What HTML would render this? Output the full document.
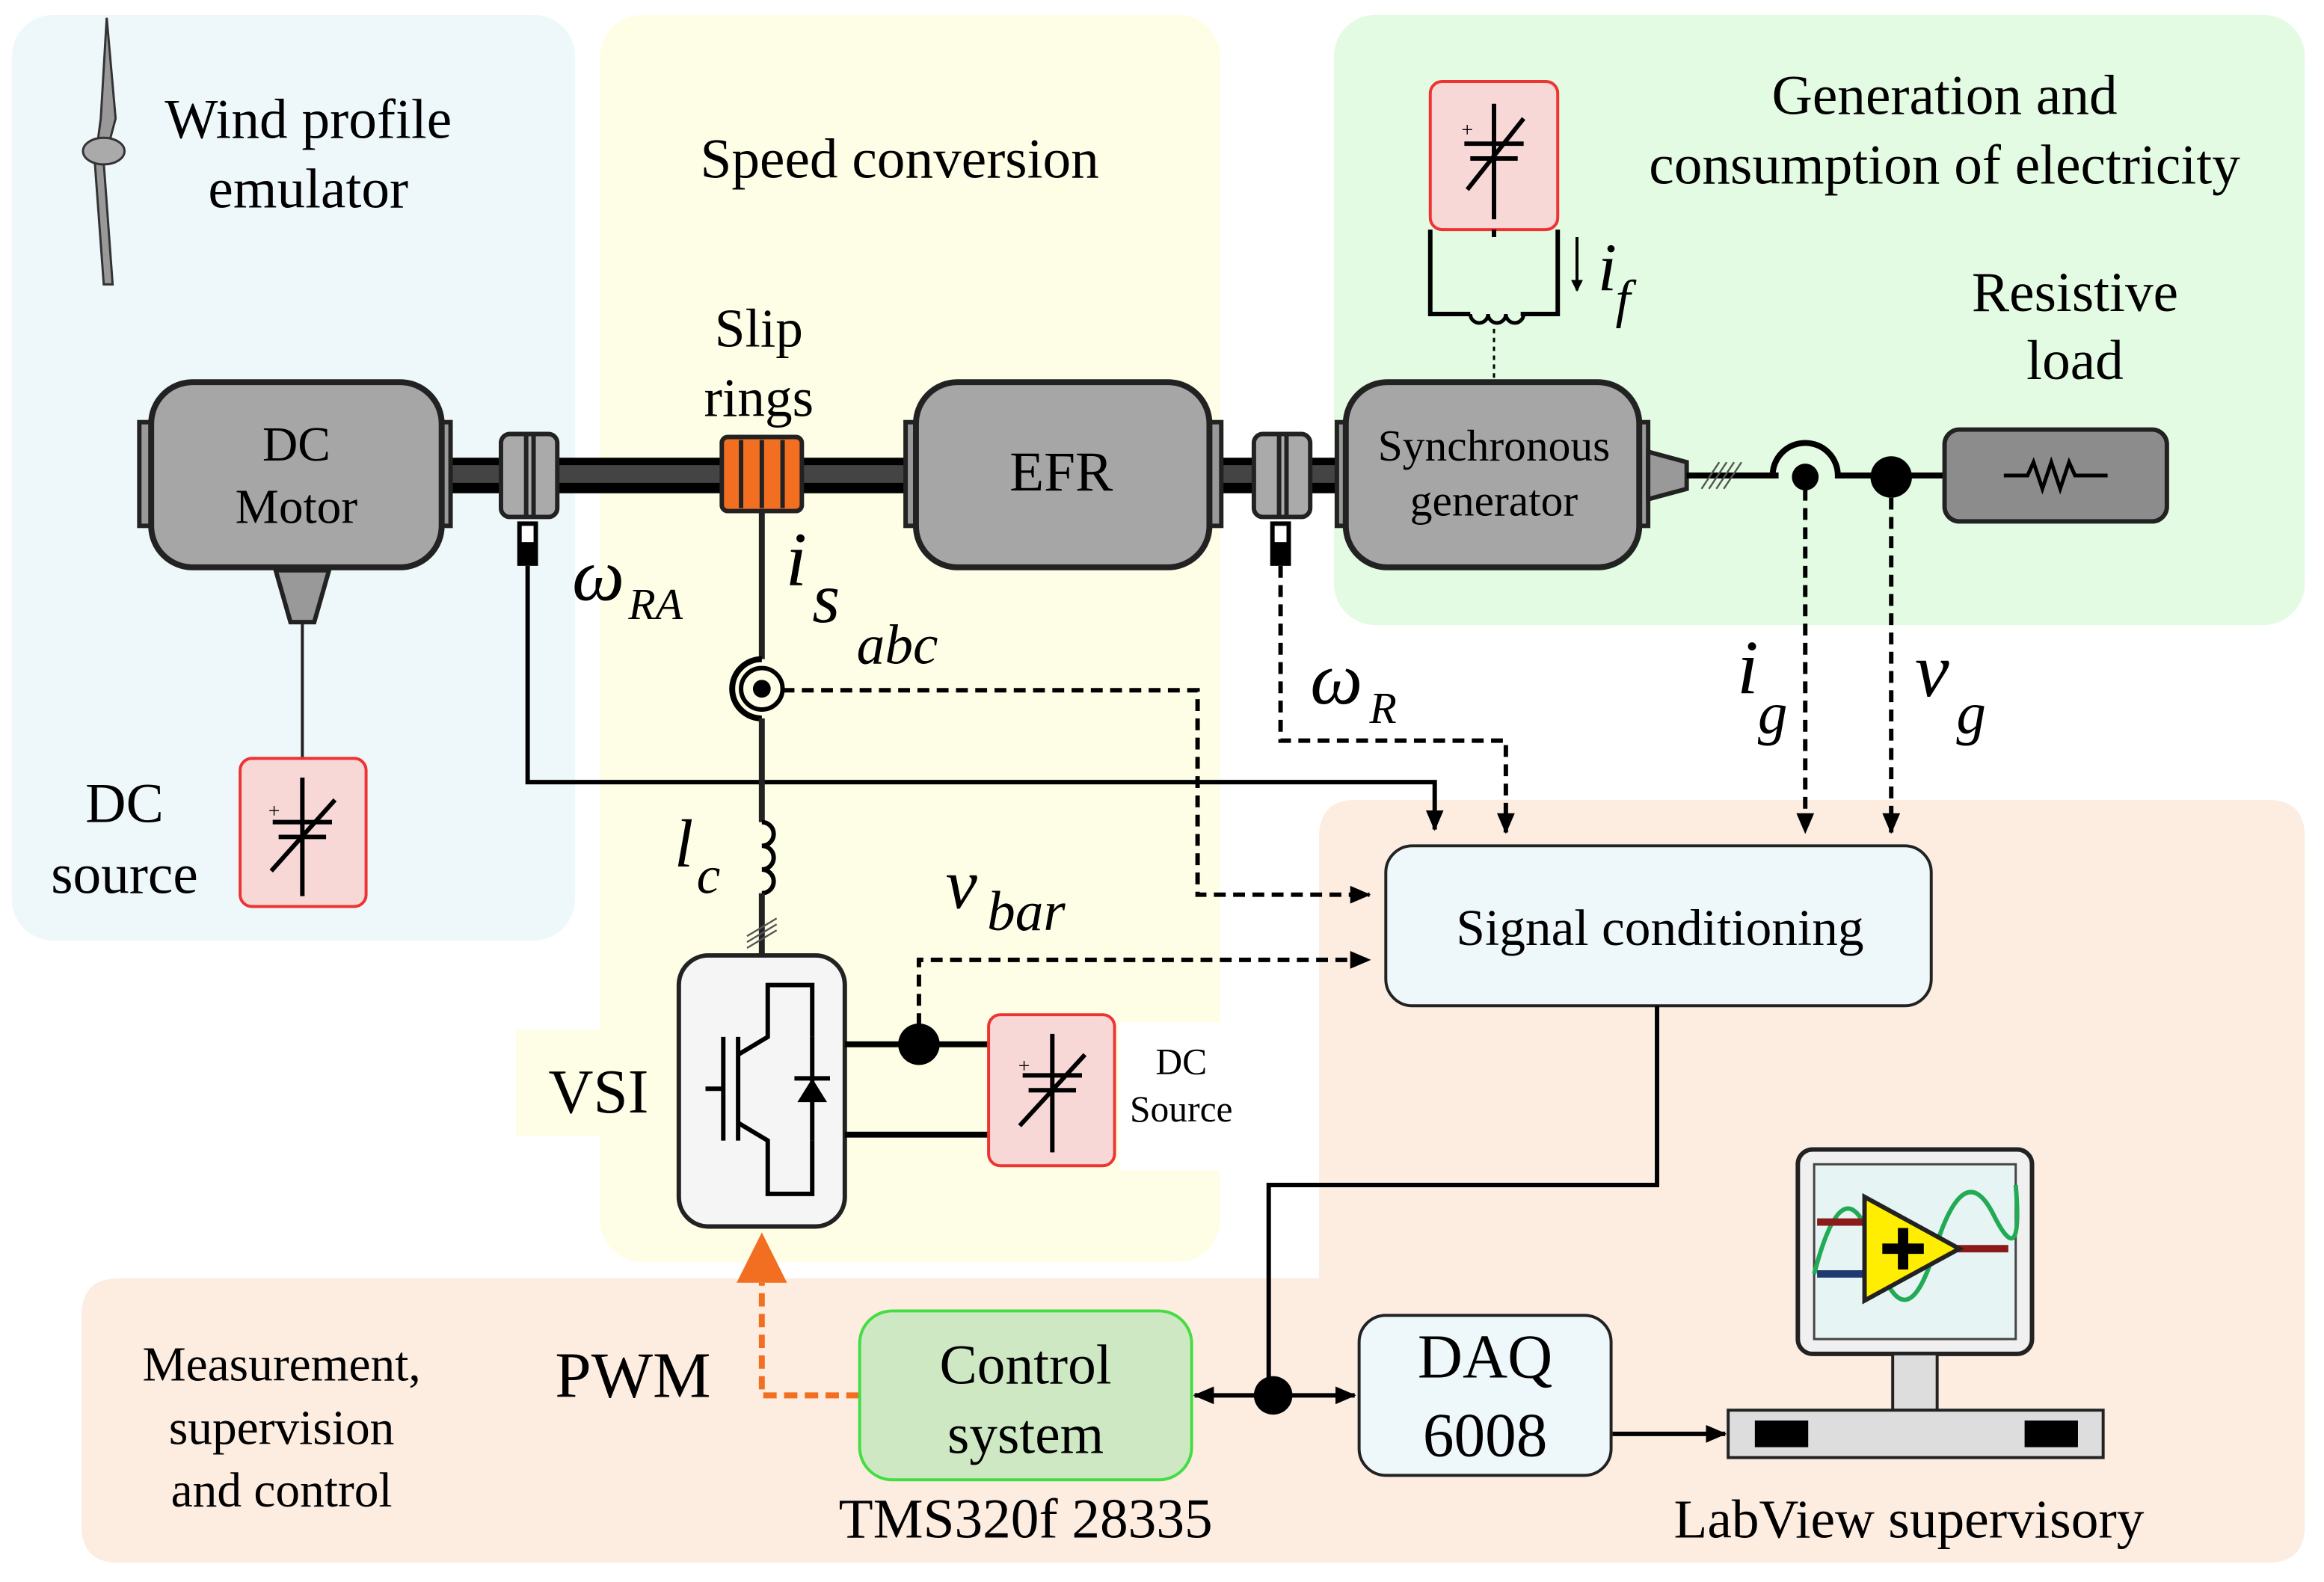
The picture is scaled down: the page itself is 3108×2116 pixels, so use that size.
<!DOCTYPE html>
<html><head><meta charset="utf-8"><style>
html,body{margin:0;padding:0;background:#fff}
svg{display:block}
text{font-family:"Liberation Serif",serif;fill:#000}
.it{font-style:italic}
</style></head><body>
<svg width="3108" height="2116" viewBox="0 0 1568 1068" preserveAspectRatio="none" xmlns="http://www.w3.org/2000/svg">
<defs>
<marker id="ah" markerWidth="8" markerHeight="8" refX="7" refY="4" orient="auto" markerUnits="userSpaceOnUse"><path d="M0,0 L14,4 L0,8z" transform="scale(0.57,1)"/></marker>
<marker id="a2" markerWidth="14" markerHeight="12" refX="13" refY="6" orient="auto" markerUnits="userSpaceOnUse"><path d="M0,0 L14,6 L0,12z"/></marker>
</defs>
<rect x="8" y="10" width="380" height="625" rx="28" fill="#eef8fb"/>
<path d="M890,565 Q890,540 915,540 L1530,540 Q1555,540 1555,565 L1555,1030 Q1555,1055 1530,1055 L80,1055 Q55,1055 55,1030 L55,888 Q55,863 80,863 L890,863 Z" fill="#fdece0"/>
<rect x="405" y="10" width="418" height="842" rx="28" fill="#fefee6"/>
<rect x="348" y="695" width="110" height="72" fill="#fefee6"/>
<rect x="900" y="10" width="655" height="412" rx="28" fill="#e3fbe3"/>
<rect x="755" y="690" width="82" height="100" fill="#fff"/>

<path d="M72,12 L78,80 L70,110 L76,192 L70,192 L64,110 L68,80 Z" fill="#999" stroke="#333" stroke-width="1.5"/>
<ellipse cx="70" cy="102" rx="14" ry="9" fill="#aaa" stroke="#333" stroke-width="1.5"/>
<text x="208" y="93" font-size="38" text-anchor="middle">Wind profile</text>
<text x="208" y="140" font-size="38" text-anchor="middle">emulator</text>
<text x="607" y="120" font-size="38" text-anchor="middle">Speed conversion</text>
<text x="1312" y="77" font-size="38" text-anchor="middle">Generation and</text>
<text x="1312" y="124" font-size="38" text-anchor="middle">consumption of electricity</text>
<text x="1400" y="210" font-size="38" text-anchor="middle">Resistive</text>
<text x="1400" y="256" font-size="38" text-anchor="middle">load</text>
<text x="512" y="234" font-size="37" text-anchor="middle">Slip</text>
<text x="512" y="281" font-size="37" text-anchor="middle">rings</text>

<rect x="298" y="309" width="614" height="24" fill="#000"/>
<rect x="298" y="314" width="614" height="12" fill="#444"/>
<rect x="94" y="285" width="12" height="70" fill="#999" stroke="#222" stroke-width="3"/>
<rect x="292" y="285" width="12" height="70" fill="#999" stroke="#222" stroke-width="3"/>
<rect x="102" y="258" width="196" height="125" rx="28" fill="#a6a6a6" stroke="#222" stroke-width="4"/>
<text x="200" y="311" font-size="33" text-anchor="middle">DC</text>
<text x="200" y="353" font-size="33" text-anchor="middle">Motor</text>
<path d="M186,385 L222,385 L212,420 L196,420 Z" fill="#999" stroke="#222" stroke-width="3"/>
<line x1="204" y1="420" x2="204" y2="512" stroke="#222" stroke-width="2"/>
<g fill="#aaa" stroke="#222" stroke-width="3">
<rect x="338" y="293" width="38" height="56" rx="6"/><line x1="355" y1="293" x2="355" y2="349"/><line x1="360" y1="293" x2="360" y2="349"/>
<rect x="846" y="293" width="38" height="56" rx="6"/><line x1="863" y1="293" x2="863" y2="349"/><line x1="868" y1="293" x2="868" y2="349"/>
</g>
<rect x="487" y="295" width="54" height="50" rx="4" fill="#f26f21" stroke="#222" stroke-width="3"/>
<g stroke="#222" stroke-width="3"><line x1="500" y1="297" x2="500" y2="343"/><line x1="514" y1="297" x2="514" y2="343"/><line x1="528" y1="297" x2="528" y2="343"/></g>
<rect x="611" y="285" width="12" height="70" fill="#999" stroke="#222" stroke-width="3"/>
<rect x="812" y="285" width="12" height="70" fill="#999" stroke="#222" stroke-width="3"/>
<rect x="618" y="258" width="198" height="125" rx="28" fill="#a6a6a6" stroke="#222" stroke-width="4"/>
<text x="716" y="331" font-size="38" text-anchor="middle">EFR</text>
<rect x="902" y="285" width="12" height="70" fill="#999" stroke="#222" stroke-width="3"/>
<rect x="1100" y="285" width="12" height="70" fill="#999" stroke="#222" stroke-width="3"/>
<rect x="908" y="258" width="198" height="125" rx="28" fill="#a6a6a6" stroke="#222" stroke-width="4"/>
<text x="1008" y="311" font-size="30" text-anchor="middle">Synchronous</text>
<text x="1008" y="348" font-size="30" text-anchor="middle">generator</text>
<path d="M1112,305 L1138,312 L1138,330 L1112,337 Z" fill="#999" stroke="#222" stroke-width="3"/>
<line x1="1138" y1="321" x2="1200" y2="321" stroke="#000" stroke-width="4"/>
<g stroke="#555" stroke-width="1.2"><line x1="1148" y1="330" x2="1160" y2="312"/><line x1="1153" y1="330" x2="1165" y2="312"/><line x1="1158" y1="330" x2="1170" y2="312"/><line x1="1163" y1="330" x2="1175" y2="312"/></g>
<path d="M1196,321 A22,22 0 0 1 1240,321 L1312,321" fill="none" stroke="#000" stroke-width="4"/>
<circle cx="1218" cy="322" r="9" fill="#000"/>
<circle cx="1276" cy="322" r="14" fill="#000"/>
<rect x="1312" y="290" width="150" height="62" rx="10" fill="#8c8c8c" stroke="#222" stroke-width="3"/>
<path d="M1352,321 L1368,321 L1372,312 L1378,330 L1384,312 L1390,330 L1396,312 L1400,321 L1422,321" fill="none" stroke="#000" stroke-width="2.5"/>
<rect x="965" y="55" width="86" height="100" rx="8" fill="#f8d7d7" stroke="#e33" stroke-width="2"/>
<g stroke="#000" stroke-width="3" fill="none">
<line x1="1008" y1="70" x2="1008" y2="148"/><line x1="988" y1="97" x2="1028" y2="97"/><line x1="992" y1="107" x2="1024" y2="107"/><line x1="990" y1="128" x2="1028" y2="80"/>
<path d="M1008,155 L1008,160 M965,155 L965,212 L992,212 M1051,155 L1051,212 L1026,212"/>
<path d="M992,212 a6,6 0 0 0 12,0 a6,6 0 0 0 12,0 a6,6 0 0 0 12,0" stroke-width="2.5"/>
</g>
<text x="986" y="92" font-size="14">+</text>
<line x1="1008" y1="222" x2="1008" y2="256" stroke="#000" stroke-width="1.5" stroke-dasharray="3,3"/>
<line x1="1064" y1="160" x2="1064" y2="196" stroke="#000" stroke-width="2" marker-end="url(#ah)"/>
<text x="1078" y="196" font-size="46" class="it">i</text><text x="1090" y="214" font-size="36" class="it">f</text>

<text x="84" y="555" font-size="38" text-anchor="middle">DC</text>
<text x="84" y="603" font-size="38" text-anchor="middle">source</text>
<rect x="162" y="512" width="85" height="100" rx="8" fill="#f8d7d7" stroke="#e33" stroke-width="2"/>
<g stroke="#000" stroke-width="3"><line x1="204" y1="525" x2="204" y2="605"/><line x1="184" y1="555" x2="224" y2="555"/><line x1="188" y1="565" x2="220" y2="565"/><line x1="183" y1="588" x2="226" y2="540"/></g>
<text x="181" y="552" font-size="14">+</text>

<rect x="349" y="352" width="14" height="30" fill="#000"/><rect x="352" y="355" width="8" height="11" fill="#fff"/>
<rect x="857" y="352" width="14" height="30" fill="#000"/><rect x="860" y="355" width="8" height="11" fill="#fff"/>
<path d="M356,382 L356,528 L968,528 L968,560" fill="none" stroke="#000" stroke-width="3" marker-end="url(#a2)"/>
<path d="M864,382 L864,500 L1016,500 L1016,562" fill="none" stroke="#000" stroke-width="3" stroke-dasharray="8,5" marker-end="url(#a2)"/>
<text x="386" y="405" font-size="50" class="it">ω</text><text x="424" y="418" font-size="30" class="it">RA</text>
<text x="884" y="475" font-size="50" class="it">ω</text><text x="924" y="488" font-size="30" class="it">R</text>
<text x="530" y="395" font-size="52" class="it">i</text><text x="548" y="420" font-size="48" class="it">s</text><text x="578" y="448" font-size="38" class="it">abc</text>

<line x1="514" y1="345" x2="514" y2="445" stroke="#222" stroke-width="4"/>
<path d="M514,445 A20,20 0 0 0 514,485" fill="none" stroke="#000" stroke-width="4"/>
<circle cx="514" cy="465" r="14" fill="none" stroke="#000" stroke-width="3"/>
<circle cx="514" cy="465" r="6" fill="#000"/>
<line x1="514" y1="485" x2="514" y2="555" stroke="#222" stroke-width="4"/>
<path d="M514,555 a8,8 0 0 1 0,16 a8,8 0 0 1 0,16 a8,8 0 0 1 0,16" fill="none" stroke="#000" stroke-width="3"/>
<line x1="514" y1="603" x2="514" y2="645" stroke="#222" stroke-width="4"/>
<g stroke="#555" stroke-width="1.2"><line x1="504" y1="636" x2="524" y2="624"/><line x1="504" y1="640" x2="524" y2="628"/><line x1="504" y1="632" x2="524" y2="620"/></g>
<text x="455" y="585" font-size="46" class="it">l</text><text x="470" y="603" font-size="36" class="it">c</text>
<path d="M528,466 L808,466 L808,604 L924,604" fill="none" stroke="#000" stroke-width="3" stroke-dasharray="8,5" marker-end="url(#a2)"/>
<text x="638" y="613" font-size="48" class="it">v</text><text x="666" y="628" font-size="38" class="it">bar</text>
<path d="M620,705 L620,648 L924,648" fill="none" stroke="#000" stroke-width="3" stroke-dasharray="8,5" marker-end="url(#a2)"/>

<text x="370" y="751" font-size="42">VSI</text>
<rect x="458" y="645" width="112" height="183" rx="20" fill="#f5f5f5" stroke="#222" stroke-width="3"/>
<g stroke="#000" stroke-width="3" fill="none">
<line x1="476" y1="735" x2="488" y2="735"/><line x1="488" y1="700" x2="488" y2="770"/><line x1="498" y1="700" x2="498" y2="770"/>
<path d="M498,712 L518,700 L518,665 L548,665 L548,700 M498,758 L518,770 L518,806 L548,806 L548,770"/>
<line x1="548" y1="700" x2="548" y2="770"/>
</g>
<path d="M538,744 L558,744 L548,728 Z" fill="#000"/><line x1="536" y1="728" x2="560" y2="728" stroke="#000" stroke-width="3"/>
<line x1="570" y1="705" x2="667" y2="705" stroke="#000" stroke-width="4"/>
<line x1="570" y1="766" x2="667" y2="766" stroke="#000" stroke-width="4"/>
<circle cx="620" cy="705" r="14" fill="#000"/>
<rect x="667" y="685" width="85" height="102" rx="8" fill="#f8d7d7" stroke="#e33" stroke-width="2"/>
<g stroke="#000" stroke-width="3"><line x1="710" y1="698" x2="710" y2="778"/><line x1="690" y1="726" x2="730" y2="726"/><line x1="694" y1="736" x2="726" y2="736"/><line x1="688" y1="760" x2="732" y2="712"/></g>
<text x="687" y="724" font-size="14">+</text>
<text x="797" y="725" font-size="25" text-anchor="middle">DC</text>
<text x="797" y="757" font-size="25" text-anchor="middle">Source</text>

<rect x="935" y="571" width="368" height="108" rx="18" fill="#eef8fb" stroke="#222" stroke-width="2"/>
<text x="1120" y="638" font-size="35" text-anchor="middle">Signal conditioning</text>
<line x1="1218" y1="330" x2="1218" y2="562" stroke="#000" stroke-width="3" stroke-dasharray="8,5" marker-end="url(#a2)"/>
<line x1="1276" y1="336" x2="1276" y2="562" stroke="#000" stroke-width="3" stroke-dasharray="8,5" marker-end="url(#a2)"/>
<text x="1172" y="468" font-size="52" class="it">i</text><text x="1186" y="495" font-size="40" class="it">g</text>
<text x="1292" y="470" font-size="52" class="it">v</text><text x="1320" y="495" font-size="40" class="it">g</text>

<text x="190" y="932" font-size="33" text-anchor="middle">Measurement,</text>
<text x="190" y="975" font-size="33" text-anchor="middle">supervision</text>
<text x="190" y="1017" font-size="33" text-anchor="middle">and control</text>
<text x="427" y="943" font-size="44" text-anchor="middle">PWM</text>
<path d="M580,942 L514,942 L514,866" fill="none" stroke="#f26f21" stroke-width="4" stroke-dasharray="9,5"/>
<path d="M497,866 L531,866 L514,832 Z" fill="#f26f21"/>
<rect x="580" y="885" width="224" height="114" rx="22" fill="#cfe8c4" stroke="#44dd44" stroke-width="2"/>
<text x="692" y="934" font-size="38" text-anchor="middle">Control</text>
<text x="692" y="981" font-size="38" text-anchor="middle">system</text>
<text x="692" y="1038" font-size="38" text-anchor="middle">TMS320f 28335</text>
<path d="M1118,679 L1118,800 L856,800 L856,942" fill="none" stroke="#000" stroke-width="3"/>
<line x1="856" y1="942" x2="806" y2="942" stroke="#000" stroke-width="3" marker-end="url(#a2)"/>
<line x1="856" y1="942" x2="914" y2="942" stroke="#000" stroke-width="3" marker-end="url(#a2)"/>
<circle cx="859" cy="942" r="13" fill="#000"/>
<rect x="917" y="888" width="170" height="108" rx="18" fill="#eef8fb" stroke="#222" stroke-width="2"/>
<text x="1002" y="930" font-size="42" text-anchor="middle">DAQ</text>
<text x="1002" y="983" font-size="42" text-anchor="middle">6008</text>
<line x1="1088" y1="968" x2="1164" y2="968" stroke="#000" stroke-width="3" marker-end="url(#a2)"/>
<rect x="1213" y="776" width="158" height="138" rx="10" fill="#f0f0f0" stroke="#222" stroke-width="3"/>
<rect x="1224" y="786" width="136" height="118" fill="#e6f4f4" stroke="#444" stroke-width="1.5"/>
<path d="M1224,860 Q1245,780 1265,845 T1305,845 T1345,820 T1360,800" fill="none" stroke="#22aa55" stroke-width="3"/>
<line x1="1226" y1="825" x2="1260" y2="825" stroke="#8b1a1a" stroke-width="5"/>
<line x1="1226" y1="860" x2="1260" y2="860" stroke="#1f3a6e" stroke-width="5"/>
<line x1="1320" y1="843" x2="1355" y2="843" stroke="#8b1a1a" stroke-width="5"/>
<path d="M1258,808 L1258,878 L1322,843 Z" fill="#ffee00" stroke="#222" stroke-width="3"/>
<path d="M1270,843 L1298,843 M1284,829 L1284,857" stroke="#000" stroke-width="7"/>
<rect x="1277" y="914" width="30" height="38" fill="#ddd" stroke="#222" stroke-width="2"/>
<rect x="1166" y="952" width="253" height="32" fill="#ddd" stroke="#222" stroke-width="2"/>
<rect x="1184" y="959" width="36" height="18" fill="#000"/>
<rect x="1366" y="959" width="36" height="18" fill="#000"/>
<text x="1288" y="1038" font-size="37" text-anchor="middle">LabView supervisory</text>
</svg>
</body></html>
